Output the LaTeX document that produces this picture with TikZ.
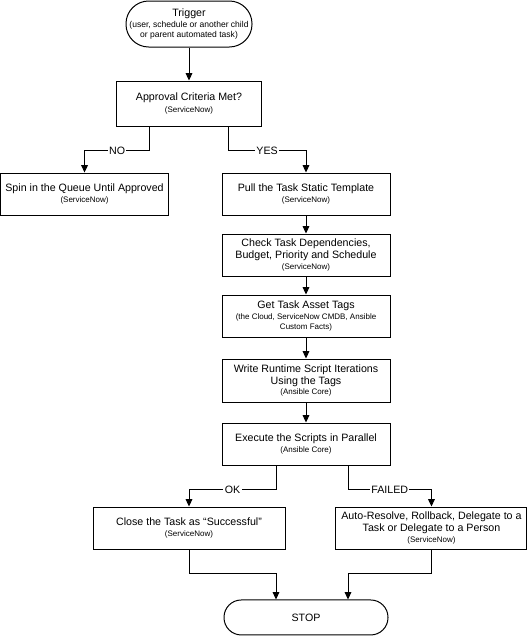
\documentclass[tikz,border=0pt]{standalone}
\usepackage{fontspec}
\setmainfont{Liberation Sans}
\usetikzlibrary{positioning,arrows.meta}

\newcommand{\srcfont}{\fontsize{6pt}{7.5pt}\selectfont}
\newcommand{\trigfont}{\fontsize{6.4pt}{7.5pt}\selectfont}

\tikzset{
  stepbox/.style={draw=black, rectangle, minimum width=126pt, minimum height=31.5pt,
    inner sep=2pt, align=center, font=\fontsize{8pt}{9pt}\selectfont},
  endbox/.style={stepbox, inner sep=0pt},
  branch/.style={fill=white, inner sep=1pt, font=\fontsize{8pt}{9pt}\selectfont},
  flow/.style={->}
}

\begin{document}
\begin{tikzpicture}[>={Triangle[length=5.5pt,width=5pt]}, line width=0.75pt, node distance=13.5pt]
  \useasboundingbox (0,0) rectangle (396pt,-477pt);

  \node[endbox, minimum width=94.5pt, minimum height=34.5pt, rounded corners=17pt] (trigger) at (141.75pt,-18pt)
    {Trigger\\[-0.5pt]\trigfont (user, schedule or another child\\[-1.5pt]\trigfont or parent automated task)};
  \node[stepbox, minimum width=108.75pt, minimum height=33.75pt, below=24.75pt of trigger] (approval)
    {Approval Criteria Met?\\[0pt]\srcfont (ServiceNow)};

  \node[stepbox] (spin) at (63.4pt,-145.5pt) {Spin in the Queue Until Approved\\[-0.5pt]\srcfont (ServiceNow)};
  \node[stepbox] (pull) at (229.5pt,-145.5pt) {Pull the Task Static Template\\[-0.5pt]\srcfont (ServiceNow)};
  \node[stepbox, below=of pull] (check)
    {Check Task Dependencies,\\Budget, Priority and Schedule\\[-1pt]\srcfont (ServiceNow)};
  \node[stepbox, below=of check] (gettags)
    {Get Task Asset Tags\\[-0.5pt]\srcfont (the Cloud, ServiceNow CMDB, Ansible\\[-1.5pt]\srcfont Custom Facts)};
  \node[stepbox, minimum height=32.25pt, below=15.75pt of gettags] (write)
    {Write Runtime Script Iterations\\Using the Tags\\[-1pt]\srcfont (Ansible Core)};
  \node[stepbox, below=15pt of write] (exec) {Execute the Scripts in Parallel\\[-0.5pt]\srcfont (Ansible Core)};

  \node[stepbox, minimum width=144pt] (close) at (141.75pt,-396pt)
    {Close the Task as “Successful”\\[-0.5pt]\srcfont (ServiceNow)};
  \node[stepbox, minimum width=143.25pt] (resolve) at (323.6pt,-396pt)
    {Auto-Resolve, Rollback, Delegate to a\\Task or Delegate to a Person\\[-1pt]\srcfont (ServiceNow)};

  \node[endbox, minimum width=123pt, minimum height=26.25pt, rounded corners=13pt] (stop) at (229.5pt,-463.1pt) {STOP};

  % connectors
  \draw[flow] (trigger) -- (approval);
  \draw[flow] ([xshift=-29.5pt]approval.south) -- ++(0,-18pt) -| node[pos=0.25,branch]{NO} (spin);
  \draw[flow] ([xshift=29.5pt]approval.south) -- ++(0,-18pt) -| node[pos=0.25,branch]{YES} (pull);
  \draw[flow] (pull) -- (check);
  \draw[flow] (check) -- (gettags);
  \draw[flow] (gettags) -- (write);
  \draw[flow] (write) -- (exec);
  \draw[flow] ([xshift=-22.5pt]exec.south) -- ++(0,-18pt) -| node[pos=0.25,branch]{OK} (close);
  \draw[flow] ([xshift=31.5pt]exec.south) -- ++(0,-18pt) -| node[pos=0.25,branch]{FAILED} (resolve);
  \draw[flow] (close.south) -- ++(0,-18pt) -| ([xshift=-22.5pt]stop.north);
  \draw[flow] (resolve.south) -- ++(0,-18pt) -| ([xshift=31.5pt]stop.north);
\end{tikzpicture}
\end{document}
